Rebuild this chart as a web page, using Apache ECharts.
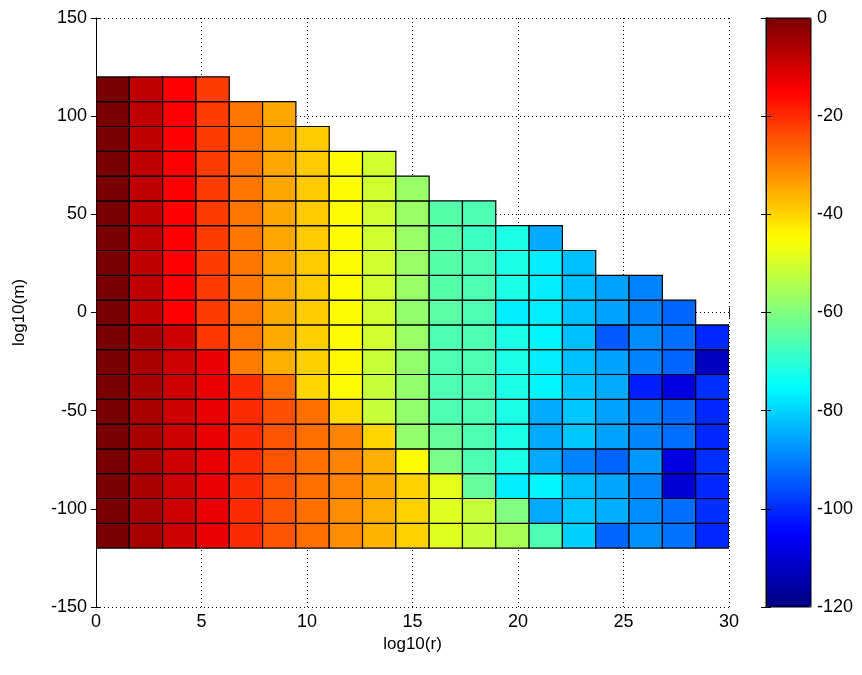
<!DOCTYPE html>
<html><head><meta charset="utf-8">
<script src="https://cdn.jsdelivr.net/npm/echarts@6/dist/echarts.min.js"></script>
<style>html,body{margin:0;padding:0;background:#fff}#c{width:862px;height:675px}</style>
</head><body><div id="c"></div>
<script>
// cell edges (pcolor grid): log10(r) and log10(m)
const rEdges = [0, 1.579, 3.158, 4.737, 6.316, 7.895, 9.474, 11.053, 12.632, 14.211, 15.789, 17.368, 18.947, 20.526, 22.105, 23.684, 25.263, 26.842, 28.421, 30];
const mEdges = [-120, -107.368, -94.737, -82.105, -69.474, -56.842, -44.211, -31.579, -18.947, -6.316, 6.316, 18.947, 31.579, 44.211, 56.842, 69.474, 82.105, 94.737, 107.368, 120];
const N = null;
// cell values, one row per log10(m) band, bottom to top
const row00 = [0,-5.5,-9.6,-12.6,-20,-25,-28,-31.5,-36,-39.6,-48.5,-51.6,-55,-66,-80.5,-93.2,-88,-91.5,-100.3];
const row01 = [0,-5.5,-9.6,-12.6,-20,-25,-28,-31.5,-35.6,-39.6,-48.5,-51.6,-60,-85,-81.6,-84.5,-88.5,-92,-99.5];
const row02 = [0,-5.5,-9.6,-12.6,-20,-25,-28,-30.3,-35,-39.6,-48,-63.2,-77,-76,-82.6,-85.5,-89.2,-110,-100.3];
const row03 = [0,-5.5,-9.6,-12.6,-20,-25,-28,-30.3,-35.6,-44.5,-61,-66,-72,-85,-89.7,-93.2,-87,-108.5,-99.5];
const row04 = [0,-5.5,-9.6,-12.6,-20,-25,-28,-30.3,-40.2,-57.6,-63.2,-66,-72,-85,-81.6,-86,-89.2,-92,-100.3];
const row05 = [0,-5.5,-9.6,-12.6,-20,-24.3,-28,-40.8,-51.6,-57.6,-66,-66,-72,-85,-81.6,-86,-89.7,-93,-100.3];
const row06 = [0,-5.5,-9.6,-12.6,-20,-28,-40,-44.5,-51.6,-57.6,-66,-66,-72,-76,-81.6,-85,-101.5,-108.5,-99.5];
const row07 = [0,-5.5,-9.6,-12.6,-29.5,-35.5,-39.5,-44,-51.5,-57.6,-66,-66,-72,-77,-82.6,-86,-89.7,-93.2,-112.6];
const row08 = [0,-5.5,-9.6,-21.5,-29,-35,-39.5,-44.5,-50.5,-57,-66,-66,-72,-76,-82.6,-94.4,-88.5,-92,-100.3];
const row09 = [0,-8,-15,-22,-29,-35,-39,-44.5,-50.5,-57.6,-64.5,-66,-77,-77,-82.6,-86,-89.7,-93.2,N];
const row10 = [0,-8,-15,-22,-29,-34.5,-38.7,-44.5,-50.5,-57,-65,-66,-72,-77,-82.6,-86,-89.7,N,N];
const row11 = [0,-8,-15,-22,-29,-34.5,-38.7,-44.5,-50.5,-57,-65,-66,-72,-77,-82.6,N,N,N,N];
const row12 = [0,-8,-15,-22,-29,-34.5,-38.7,-44.5,-50.5,-57,-65,-68,-72,-85,N,N,N,N,N];
const row13 = [0,-8,-15,-22,-29,-34.5,-38.7,-44.5,-50.5,-57,-65,-66,N,N,N,N,N,N,N];
const row14 = [0,-8,-15,-22,-29,-34.5,-38.7,-44.5,-50.5,-57,N,N,N,N,N,N,N,N,N];
const row15 = [0,-8,-15,-22,-29,-34.5,-38.7,-44.5,-50.5,N,N,N,N,N,N,N,N,N,N];
const row16 = [0,-8,-15,-22,-29,-34.5,-38.7,N,N,N,N,N,N,N,N,N,N,N,N];
const row17 = [0,-8,-15,-22,-29,-34.5,N,N,N,N,N,N,N,N,N,N,N,N,N];
const row18 = [0,-8,-15,-22,N,N,N,N,N,N,N,N,N,N,N,N,N,N,N];
const rows = [row00,row01,row02,row03,row04,row05,row06,row07,row08,row09,row10,row11,row12,row13,row14,row15,row16,row17,row18];

const cells = [];
rows.forEach(function (row, j) {
  row.forEach(function (v, i) { if (v !== null) cells.push([i, j, v]); });
});

const jet = ['#000080','#0000ff','#0080ff','#00ffff','#80ff80','#ffff00','#ff8000','#ff0000','#780000'];
const FONT = "'Liberation Sans', Arial, Helvetica, sans-serif";
const black = '#000';

function renderItem(params, api) {
  const i = api.value(0), j = api.value(1);
  const p0 = api.coord([rEdges[i], mEdges[j + 1]]);
  const p1 = api.coord([rEdges[i + 1], mEdges[j]]);
  return {
    type: 'rect',
    shape: { x: p0[0], y: p0[1], width: p1[0] - p0[0], height: p1[1] - p0[1] },
    style: { fill: api.visual('color'), stroke: black, lineWidth: 1.2 }
  };
}

const chart = echarts.init(document.getElementById('c'), null, { renderer: 'canvas' });
chart.setOption({
  animation: false,
  backgroundColor: '#fff',
  textStyle: { fontFamily: FONT, color: black },
  grid: [
    { left: 96, top: 18, width: 633, height: 589 },
    { left: 766, top: 18, width: 45, height: 589, show: true, borderColor: black, borderWidth: 1, backgroundColor: 'transparent', z: 10 }
  ],
  xAxis: [
    { gridIndex: 0, type: 'value', min: 0, max: 30, interval: 5, position: 'bottom',
      axisLine: { show: false }, axisTick: { inside: true, length: 5, lineStyle: { color: black } },
      axisLabel: { color: black, fontSize: 18, margin: 6, fontFamily: FONT },
      splitLine: { show: true, lineStyle: { color: black, type: [1, 3], width: 1 } },
      name: 'log10(r)', nameLocation: 'middle', nameGap: 19,
      nameTextStyle: { color: black, fontSize: 17, fontFamily: FONT } },
    { gridIndex: 0, type: 'value', min: 0, max: 30, interval: 5, position: 'top',
      axisLine: { show: false }, axisTick: { inside: true, length: 5, lineStyle: { color: black } },
      axisLabel: { show: false }, splitLine: { show: false } },
    { gridIndex: 1, type: 'value', min: 0, max: 1, show: false }
  ],
  yAxis: [
    { gridIndex: 0, type: 'value', min: -150, max: 150, interval: 50, position: 'left',
      axisLine: { show: true, lineStyle: { color: black, width: 1 } },
      axisTick: { inside: true, length: 5, lineStyle: { color: black } },
      axisLabel: { color: black, fontSize: 18, margin: 9, fontFamily: FONT },
      splitLine: { show: true, lineStyle: { color: black, type: [1, 3], width: 1 } },
      name: 'log10(m)', nameLocation: 'middle', nameGap: 68, nameRotate: 90,
      nameTextStyle: { color: black, fontSize: 17, fontFamily: FONT } },
    { gridIndex: 0, type: 'value', min: -150, max: 150, interval: 50, position: 'right',
      axisLine: { show: false }, axisTick: { inside: true, length: 5, lineStyle: { color: black } },
      axisLabel: { show: false }, splitLine: { show: false } },
    { gridIndex: 1, type: 'value', min: -120, max: 0, interval: 20, position: 'right', z: 10,
      axisLine: { show: true, lineStyle: { color: black } },
      axisTick: { inside: true, length: 5, lineStyle: { color: black } },
      axisLabel: { color: black, fontSize: 18, margin: 6, fontFamily: FONT },
      splitLine: { show: false } },
    { gridIndex: 1, type: 'value', min: -120, max: 0, interval: 20, position: 'left', z: 10,
      axisLine: { show: true, lineStyle: { color: black } },
      axisTick: { inside: true, length: 5, lineStyle: { color: black } },
      axisLabel: { show: false }, splitLine: { show: false } }
  ],
  visualMap: {
    type: 'continuous', min: -120, max: 0, dimension: 2, seriesIndex: 0,
    inRange: { color: jet }, calculable: false, hoverLink: false,
    itemWidth: 45, itemHeight: 589, left: 766, top: 18, padding: 0,
    orient: 'vertical', text: null, z: 4
  },
  series: [{
    type: 'custom', xAxisIndex: 0, yAxisIndex: 0, renderItem: renderItem,
    data: cells, encode: { x: -1, y: -1 }, clip: true, z: 2
  }]
});
</script>
</body></html>
